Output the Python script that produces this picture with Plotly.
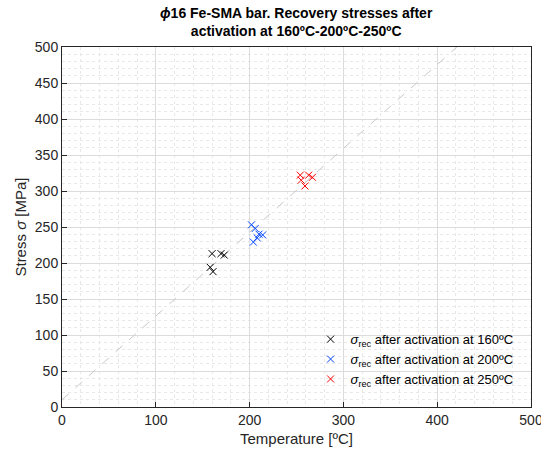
import plotly.graph_objects as go

t160 = [160, 169.5, 173, 158, 161]
s160 = [213, 213, 211, 194, 188]
t200 = [202, 206, 210, 214, 208, 204]
s200 = [253, 248, 240, 239, 235, 229]
t250 = [254, 255, 263, 267, 259]
s250 = [322, 315, 322, 319, 307]
fit_t = [0, 421]
fit_s = [10, 500]

title_text = "<b><i>ϕ</i>16 Fe-SMA bar. Recovery stresses after<br>activation at 160ºC-200ºC-250ºC</b>"
labels = ["<i>σ</i><sub>rec</sub> after activation at 160ºC",
          "<i>σ</i><sub>rec</sub> after activation at 200ºC",
          "<i>σ</i><sub>rec</sub> after activation at 250ºC"]
colors = ["#000000", "#0044ff", "#ff0000"]

fig = go.Figure()
fig.add_trace(go.Scatter(x=fit_t, y=fit_s, mode="lines", showlegend=False,
                         line=dict(color="#c8c8c8", width=1, dash="dash"), hoverinfo="skip"))
for tx, sy, lab, c in zip([t160, t200, t250], [s160, s200, s250], labels, colors):
    fig.add_trace(go.Scatter(x=tx, y=sy, mode="markers", name=lab,
                             marker=dict(symbol="x-thin", size=7, color=c,
                                         line=dict(width=1, color=c))))

font = "Liberation Sans, Arial, sans-serif"
axcommon = dict(showline=True, linecolor="#262626", linewidth=1, mirror=True,
                ticks="inside", ticklen=5, tickcolor="#262626", ticklabeloverflow="allow",
                automargin=False,
                tickfont=dict(size=14, color="#262626", family=font),
                gridcolor="#dcdcdc", gridwidth=1, zeroline=False)
fig.update_layout(
    width=541, height=455,
    margin=dict(l=62, r=10, t=47, b=48),
    paper_bgcolor="white", plot_bgcolor="white",
    xaxis=dict(range=[0, 500], dtick=100, title=dict(text="Temperature [ºC]", standoff=6,
               font=dict(size=15, color="#262626", family=font)),
               minor=dict(dtick=20, showgrid=True, gridcolor="#e8e8e8", griddash="dot", ticks=""),
               **axcommon),
    yaxis=dict(range=[0, 500], dtick=50, title=dict(text="Stress <i>σ</i> [MPa]", standoff=4,
               font=dict(size=15, color="#262626", family=font)),
               minor=dict(dtick=10, showgrid=True, gridcolor="#e8e8e8", griddash="dot", ticks=""),
               **axcommon),
    legend=dict(x=0.53, y=0.23, xanchor="left", yanchor="top", bgcolor="rgba(255,255,255,0)",
                font=dict(size=13, color="#000000", family=font), tracegroupgap=0),
    annotations=[dict(text=title_text, xref="paper", yref="paper", x=0.5, y=(407 - 22) / 360,
                      xanchor="center", yanchor="middle", showarrow=False,
                      font=dict(size=14, color="#000000", family=font))],
)
fig.write_html("out.html")
